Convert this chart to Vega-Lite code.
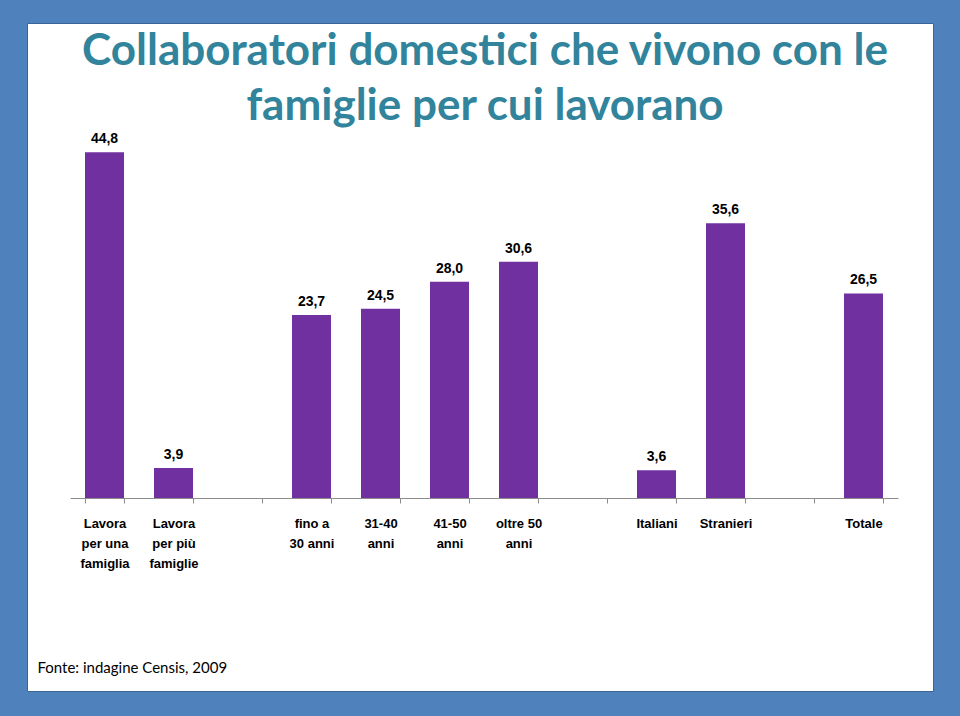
{
  "$schema": "https://vega.github.io/schema/vega-lite/v6.json",
  "autosize": "none",
  "width": 906,
  "height": 668,
  "padding": {"left": 27, "top": 23, "right": 27, "bottom": 25},
  "background": "#4f81bd",
  "config": {
    "locale": {"number": {"decimal": ",", "thousands": ".", "grouping": [3], "currency": ["€", ""]}},
    "view": {"fill": "white", "stroke": "#3a6596", "strokeWidth": 1}
  },
  "title": {
    "text": ["Collaboratori domestici che vivono con le", "famiglie per cui lavorano"],
    "orient": "top",
    "anchor": "middle",
    "frame": "group",
    "offset": -106,
    "dx": 5,
    "font": "Lato",
    "fontWeight": "bold",
    "fontSize": 44,
    "lineHeight": 55,
    "color": "#31849b"
  },
  "data": {
    "values": [
      {"categoria": "Lavora|per una|famiglia", "valore": 44.8},
      {"categoria": "Lavora|per più|famiglie", "valore": 3.9},
      {"categoria": "fino a|30 anni", "valore": 23.7},
      {"categoria": "31-40|anni", "valore": 24.5},
      {"categoria": "41-50|anni", "valore": 28.0},
      {"categoria": "oltre 50|anni", "valore": 30.6},
      {"categoria": "Italiani", "valore": 3.6},
      {"categoria": "Stranieri", "valore": 35.6},
      {"categoria": "Totale", "valore": 26.5}
    ]
  },
  "encoding": {
    "x": {
      "field": "categoria",
      "type": "nominal",
      "scale": {
        "domain": ["Lavora|per una|famiglia", "Lavora|per più|famiglie", "_1", "fino a|30 anni", "31-40|anni", "41-50|anni", "oltre 50|anni", "_2", "Italiani", "Stranieri", "_3", "Totale"],
        "range": [43, 871],
        "paddingInner": 0.435,
        "paddingOuter": 0.2175
      },
      "axis": {
        "offset": -193,
        "labelAngle": 0,
        "labelExpr": "isString(datum.value) ? (indexof(datum.value, '_') == 0 ? '' : split(datum.value, '|')) : ''",
        "labelFont": "Liberation Sans",
        "labelFontWeight": "bold",
        "labelFontSize": 13,
        "labelLineHeight": 20,
        "labelColor": "#000000",
        "labelPadding": 14,
        "labelLimit": 120,
        "tickBand": "extent",
        "tickSize": 5,
        "tickColor": "#8c8c8c",
        "domainColor": "#8c8c8c",
        "title": "Fonte: indagine Censis, 2009",
        "titleFont": "Lato",
        "titleFontWeight": "normal",
        "titleFontSize": 15,
        "titleColor": "#000000",
        "titleAnchor": "start",
        "titleAlign": "left",
        "titleBaseline": "alphabetic",
        "titleX": 10,
        "titleY": 174
      }
    },
    "y": {
      "field": "valore",
      "type": "quantitative",
      "scale": {"domain": [-25.0, 61.53], "nice": false, "zero": false},
      "axis": null
    }
  },
  "layer": [
    {"mark": {"type": "bar", "color": "#7030a0"}, "encoding": {"y2": {"datum": 0}}},
    {
      "mark": {
        "type": "text",
        "dy": -9,
        "baseline": "alphabetic",
        "font": "Liberation Sans",
        "fontWeight": "bold",
        "fontSize": 14,
        "color": "#000000"
      },
      "encoding": {"text": {"field": "valore", "type": "quantitative", "format": ".1f"}}
    }
  ]
}
